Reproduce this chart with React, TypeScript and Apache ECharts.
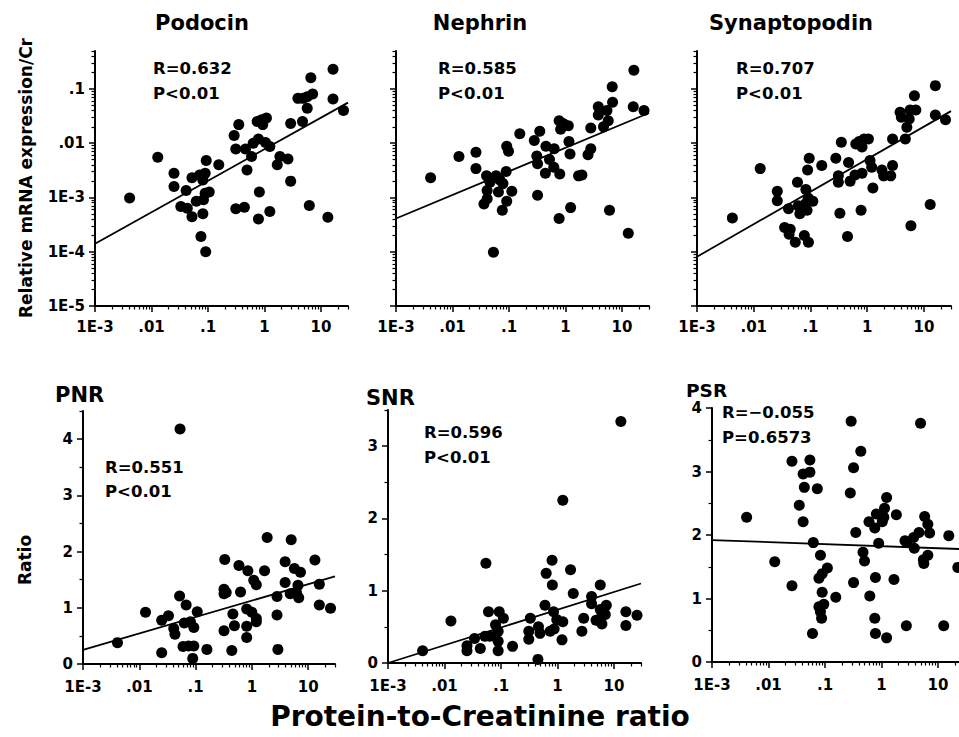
import React, { useEffect, useRef } from "react";
import * as echarts from "echarts";

// ---------- tick labels ----------
const xTickValues = [0.001, 0.01, 0.1, 1, 10];
const xTickLabels = ["1E-3", ".01", ".1", "1", "10"];
const logYTickValues = [1e-5, 1e-4, 1e-3, 0.01, 0.1];
const logYTickLabels = ["1E-5", "1E-4", "1E-3", ".01", ".1"];

const geneTitles = ["Podocin", "Nephrin", "Synaptopodin"];
const ratioTitles = ["PNR", "SNR", "PSR"];
const rTexts = ["R=0.632", "R=0.585", "R=0.707", "R=0.551", "R=0.596", "R=\u22120.055"];
const pTexts = ["P<0.01", "P<0.01", "P<0.01", "P<0.01", "P<0.01", "P=0.6573"];
const yNameTop = "Relative mRNA expression/Cr";
const yNameBottom = "Ratio";
const xName = "Protein-to-Creatinine ratio";

// ---------- data [protein-to-creatinine ratio, value] ----------
const podocin = [
  [0.0041, 9.8e-4], [0.0129, 0.0055], [0.025, 0.0028], [0.025, 0.0016], [0.041, 0.00135],
  [0.052, 0.0023], [0.033, 6.8e-4], [0.043, 6.3e-4], [0.052, 4.4e-4], [0.062, 8.5e-4],
  [0.071, 0.0026], [0.081, 0.0021], [0.089, 0.0028], [0.093, 0.0048], [0.083, 9.1e-4],
  [0.089, 0.0012], [0.105, 0.00126], [0.081, 5.0e-4], [0.075, 1.9e-4], [0.091, 1.0e-4],
  [0.155, 0.004], [0.29, 0.0139], [0.35, 0.022], [0.31, 0.0078], [0.46, 0.0078],
  [0.49, 0.0032], [0.31, 6.2e-4], [0.44, 6.6e-4], [0.59, 0.0057], [0.63, 0.01],
  [0.78, 0.012], [0.74, 0.025], [0.89, 0.027], [1.08, 0.029], [0.93, 0.022],
  [1.04, 0.0103], [1.24, 0.0087], [0.81, 0.00126], [0.78, 4.0e-4], [1.24, 5.5e-4],
  [1.68, 0.004], [1.87, 0.0057], [2.6, 0.0051], [2.9, 0.002], [2.9, 0.023],
  [3.9, 0.067], [4.8, 0.067], [5.7, 0.072], [7.1, 0.081], [6.6, 0.16],
  [5.7, 0.044], [4.7, 0.025], [6.2, 7.1e-4], [13.2, 4.3e-4], [16.3, 0.23],
  [16.3, 0.065], [25, 0.04],
];
const nephrin = [
  [0.0041, 0.0023], [0.013, 0.0057], [0.026, 0.0068], [0.026, 0.0034], [0.04, 0.0025],
  [0.059, 0.0025], [0.046, 0.0019], [0.041, 0.00135], [0.036, 7.6e-4], [0.041, 9.5e-4],
  [0.065, 0.00126], [0.078, 0.0018], [0.089, 0.003], [0.112, 0.0013], [0.091, 8.5e-4],
  [0.076, 5.8e-4], [0.053, 9.8e-5], [0.091, 0.0088], [0.098, 0.0071], [0.155, 0.015],
  [0.28, 0.0112], [0.35, 0.0166], [0.31, 0.0058], [0.32, 0.0042], [0.44, 0.0028],
  [0.45, 0.0088], [0.52, 0.005], [0.63, 0.0079], [0.62, 0.0036], [0.79, 0.0027],
  [0.32, 0.0011], [0.77, 4.1e-4], [1.23, 6.5e-4], [0.77, 0.026], [0.91, 0.023],
  [1.12, 0.021], [0.82, 0.018], [1.15, 0.0107], [1.2, 0.0063], [1.7, 0.0025],
  [1.95, 0.0026], [2.5, 0.0061], [2.8, 0.0079], [2.8, 0.019], [3.8, 0.047],
  [3.8, 0.033], [4.7, 0.02], [5.7, 0.026], [5.4, 0.04], [6.8, 0.057],
  [6.7, 0.11], [6.0, 5.8e-4], [12.9, 2.2e-4], [16.2, 0.22], [15.8, 0.047],
  [24.5, 0.04], [0.069, 0.0021],
];
const synaptopodin = [
  [0.0042, 4.2e-4], [0.013, 0.0034], [0.026, 0.0013], [0.026, 8.7e-4], [0.059, 0.0019],
  [0.041, 6.2e-4], [0.061, 7.0e-4], [0.065, 5.0e-4], [0.081, 7.6e-4], [0.083, 0.0014],
  [0.087, 5.8e-4], [0.11, 8.5e-4], [0.091, 9.8e-4], [0.095, 0.0053], [0.089, 0.0032],
  [0.158, 0.0039], [0.035, 2.8e-4], [0.044, 2.6e-4], [0.042, 2.1e-4], [0.054, 1.5e-4],
  [0.078, 2.0e-4], [0.092, 1.5e-4], [0.28, 0.0053], [0.35, 0.0104], [0.31, 0.0025],
  [0.31, 0.0019], [0.47, 0.0044], [0.5, 0.002], [0.61, 0.0026], [0.81, 0.0028],
  [0.33, 5.1e-4], [0.45, 1.9e-4], [0.78, 5.8e-4], [0.63, 0.0097], [0.72, 0.0107],
  [0.88, 0.012], [0.81, 0.0085], [1.05, 0.012], [1.12, 0.0048], [1.2, 0.0036],
  [1.26, 0.0015], [1.82, 0.0032], [1.95, 0.0025], [2.6, 0.0025], [2.8, 0.0039],
  [2.8, 0.012], [4.7, 0.012], [5.0, 0.0196], [5.5, 0.028], [3.8, 0.037],
  [4.0, 0.03], [5.7, 0.041], [7.2, 0.041], [6.8, 0.075], [5.9, 3.0e-4],
  [12.9, 7.4e-4], [15.9, 0.115], [15.9, 0.033], [24, 0.027],
];
const pnr = [
  [0.053, 4.18], [0.0041, 0.38], [0.0129, 0.92], [0.025, 0.78], [0.033, 0.86],
  [0.041, 0.63], [0.043, 0.53], [0.025, 0.2], [0.052, 1.21], [0.068, 1.05],
  [0.063, 0.73], [0.081, 0.75], [0.093, 0.65], [0.107, 0.93], [0.06, 0.31],
  [0.075, 0.32], [0.093, 0.32], [0.089, 0.1], [0.159, 0.26], [0.32, 1.25],
  [0.32, 1.33], [0.33, 1.86], [0.35, 1.27], [0.32, 0.59], [0.44, 0.24],
  [0.46, 0.89], [0.49, 0.68], [0.63, 1.28], [0.59, 1.75], [0.85, 1.66],
  [0.81, 0.98], [0.81, 0.67], [0.81, 0.47], [1.0, 0.92], [1.08, 1.49],
  [1.2, 1.41], [1.2, 0.81], [1.2, 0.75], [1.68, 1.66], [1.87, 2.25],
  [2.8, 1.2], [2.8, 0.87], [2.9, 0.26], [3.9, 1.82], [3.9, 1.45],
  [4.8, 1.25], [5.0, 2.21], [5.7, 1.7], [6.8, 1.18], [7.3, 1.63],
  [6.6, 1.4], [6.2, 1.27], [13.2, 1.85], [15.8, 1.42], [15.8, 1.05],
  [25, 0.99],
];
const snr = [
  [13.2, 3.34], [1.24, 2.25], [0.054, 1.38], [0.8, 1.42], [0.63, 1.24],
  [0.81, 1.08], [1.7, 1.29], [1.9, 0.96], [5.7, 1.08], [4.0, 0.92],
  [4.0, 0.82], [0.0041, 0.17], [0.013, 0.58], [0.025, 0.24], [0.025, 0.17],
  [0.034, 0.34], [0.043, 0.2], [0.06, 0.71], [0.052, 0.37], [0.063, 0.37],
  [0.078, 0.37], [0.08, 0.53], [0.093, 0.71], [0.11, 0.62], [0.089, 0.44],
  [0.089, 0.3], [0.089, 0.17], [0.16, 0.23], [0.33, 0.62], [0.31, 0.44],
  [0.31, 0.33], [0.46, 0.5], [0.49, 0.41], [0.45, 0.05], [0.6, 0.8],
  [0.85, 0.71], [0.74, 0.44], [0.87, 0.47], [0.97, 0.6], [1.24, 0.57],
  [1.2, 0.32], [2.7, 0.44], [2.9, 0.62], [4.8, 0.59], [6.1, 0.65],
  [6.1, 0.54], [7.3, 0.8], [7.0, 0.67], [5.7, 0.74], [16.2, 0.71],
  [16.2, 0.52], [25.5, 0.66],
];
const psr = [
  [0.0041, 2.28], [0.0129, 1.58], [0.026, 3.16], [0.026, 1.2], [0.035, 2.47],
  [0.041, 2.96], [0.043, 2.75], [0.041, 2.21], [0.054, 3.18], [0.054, 2.99],
  [0.073, 2.73], [0.062, 1.88], [0.083, 1.68], [0.078, 1.32], [0.089, 1.39],
  [0.11, 1.48], [0.089, 1.1], [0.078, 0.87], [0.095, 0.91], [0.087, 0.69],
  [0.083, 0.79], [0.06, 0.45], [0.155, 1.02], [0.29, 3.79], [0.43, 3.32],
  [0.32, 3.06], [0.28, 2.66], [0.35, 2.04], [0.32, 1.25], [0.47, 1.73],
  [0.5, 1.59], [0.6, 2.21], [0.76, 2.11], [0.89, 1.87], [0.81, 2.33],
  [1.1, 2.28], [1.13, 2.42], [1.23, 2.59], [1.03, 2.21], [0.78, 1.33],
  [0.62, 1.04], [0.76, 0.69], [0.78, 0.45], [1.23, 0.38], [1.66, 1.3],
  [1.83, 2.32], [2.6, 1.91], [2.8, 1.88], [2.75, 0.57], [3.7, 1.96],
  [4.6, 2.04], [3.8, 1.79], [4.9, 3.76], [5.8, 2.29], [6.6, 2.17],
  [7.1, 2.03], [6.6, 1.68], [5.5, 1.61], [5.6, 1.55], [12.6, 0.57],
  [15.5, 1.99], [22.4, 1.49],
];

// regression line end points
const podocinFit = [[0.001, 1.4e-4], [30, 0.056]];
const nephrinFit = [[0.001, 4.1e-4], [30, 0.036]];
const synaptopodinFit = [[0.001, 8.1e-5], [30, 0.039]];
const pnrFit = [[0.001, 0.25], [30, 1.56]];
const snrFit = [[0.001, 0.0], [30, 1.1]];
const psrFit = [[0.001, 1.92], [30, 1.776]];

const ratioYTicks4 = [0, 1, 2, 3, 4];
const ratioYTicks3 = [0, 1, 2, 3];

const FONT = '"DejaVu Sans", sans-serif';

function logMinor(min: number, max: number) {
  const out: number[] = [];
  for (let k = -6; k <= 2; k++) {
    for (let m = 2; m <= 9; m++) {
      const v = m * Math.pow(10, k);
      if (v > min * 1.0001 && v < max * 1.0001) out.push(v);
    }
  }
  return out;
}
function halves(max: number) {
  const out: number[] = [];
  for (let v = 0.5; v <= max + 1e-9; v += 1) out.push(v);
  return out;
}
function logFormatter(vals: number[], labels: string[]) {
  return (v: number) => {
    const i = vals.findIndex((t) => Math.abs(Math.log10(t) - Math.log10(v)) < 1e-6);
    return i >= 0 ? labels[i] : "";
  };
}

const panels = [
  { left: 95, top: 51, width: 253, height: 255, log: true, yMax: 0.5, pts: podocin, fit: podocinFit, row: 0 },
  { left: 396, top: 51, width: 253, height: 255, log: true, yMax: 0.5, pts: nephrin, fit: nephrinFit, row: 0 },
  { left: 697, top: 51, width: 254, height: 255, log: true, yMax: 0.5, pts: synaptopodin, fit: synaptopodinFit, row: 0 },
  { left: 83, top: 411, width: 252, height: 253, log: false, yMax: 4.5, yTicks: ratioYTicks4, pts: pnr, fit: pnrFit, row: 1 },
  { left: 388, top: 410, width: 253, height: 253, log: false, yMax: 3.5, yTicks: ratioYTicks3, pts: snr, fit: snrFit, row: 1 },
  { left: 712, top: 408, width: 253, height: 254, log: false, yMax: 4, yTicks: ratioYTicks4, pts: psr, fit: psrFit, row: 1 },
];

const labelStyle = { color: "#000", fontSize: 15, fontWeight: "bold" as const, fontFamily: FONT };

function buildOption() {
  const xMin = 0.001;
  const xMax = 30;
  const minorX = logMinor(xMin, xMax);
  const grid = panels.map((p) => ({
    left: p.left, top: p.top, width: p.width, height: p.height,
    containLabel: false, outerBoundsMode: "none",
  }));
  const xAxis: any[] = [];
  const yAxis: any[] = [];
  const series: any[] = [];
  panels.forEach((p, i) => {
    xAxis.push({
      type: "log", logBase: 10, gridIndex: i, min: xMin, max: xMax, position: "bottom",
      axisLine: { show: true, onZero: false, lineStyle: { color: "#000", width: 2 } },
      axisTick: { show: true, inside: false, length: 6, customValues: xTickValues, lineStyle: { color: "#000", width: 1.5 } },
      axisLabel: { show: true, customValues: xTickValues, formatter: logFormatter(xTickValues, xTickLabels), margin: p.row === 0 ? 13 : 15, ...labelStyle },
      splitLine: { show: false }, minorTick: { show: false }, minorSplitLine: { show: false },
    });
    xAxis.push({
      type: "log", logBase: 10, gridIndex: i, min: xMin, max: xMax, position: "bottom",
      axisLine: { show: false, onZero: false },
      axisTick: { show: true, inside: false, length: 3.5, customValues: minorX, lineStyle: { color: "#000", width: 1.2 } },
      axisLabel: { show: false }, splitLine: { show: false },
    });
    if (p.log) {
      const minY = 1e-5;
      yAxis.push({
        type: "log", logBase: 10, gridIndex: i, min: minY, max: p.yMax, position: "left",
        axisLine: { show: true, onZero: false, lineStyle: { color: "#000", width: 2 } },
        axisTick: { show: true, inside: false, length: 6, customValues: logYTickValues, lineStyle: { color: "#000", width: 1.5 } },
        axisLabel: { show: i === 0, customValues: logYTickValues, formatter: logFormatter(logYTickValues, logYTickLabels), margin: 10, ...labelStyle },
        splitLine: { show: false },
      });
      yAxis.push({
        type: "log", logBase: 10, gridIndex: i, min: minY, max: p.yMax, position: "left",
        axisLine: { show: false, onZero: false },
        axisTick: { show: true, inside: false, length: 3.5, customValues: logMinor(minY, p.yMax), lineStyle: { color: "#000", width: 1.2 } },
        axisLabel: { show: false }, splitLine: { show: false },
      });
    } else {
      yAxis.push({
        type: "value", gridIndex: i, min: 0, max: p.yMax, position: "left",
        axisLine: { show: true, onZero: false, lineStyle: { color: "#000", width: 2 } },
        axisTick: { show: true, inside: false, length: 6, customValues: p.yTicks, lineStyle: { color: "#000", width: 1.5 } },
        axisLabel: { show: true, customValues: p.yTicks, formatter: (v: number) => String(v), margin: 10, ...labelStyle },
        splitLine: { show: false },
      });
      yAxis.push({
        type: "value", gridIndex: i, min: 0, max: p.yMax, position: "left",
        axisLine: { show: false, onZero: false },
        axisTick: { show: true, inside: false, length: 3.5, customValues: halves(p.yMax), lineStyle: { color: "#000", width: 1.2 } },
        axisLabel: { show: false }, splitLine: { show: false },
      });
    }
    series.push({
      type: "scatter", xAxisIndex: 2 * i, yAxisIndex: 2 * i, data: p.pts,
      symbol: "circle", symbolSize: 11, itemStyle: { color: "#000", opacity: 1 }, silent: true, clip: false,
    });
    series.push({
      type: "line", xAxisIndex: 2 * i, yAxisIndex: 2 * i, data: p.fit,
      showSymbol: false, symbol: "none", lineStyle: { color: "#000", width: 1.8 }, silent: true,
    });
  });

  const txt = (text: string, x: number, y: number, size: number, align = "left", rotation = 0) => ({
    type: "text", x, y, rotation, silent: true,
    style: {
      text, fill: "#000", font: `bold ${size}px ${FONT}`,
      textAlign: align, textVerticalAlign: "middle", align, verticalAlign: "middle",
    },
  });

  const graphic: any[] = [
    txt(geneTitles[0], 202, 23, 21, "center"),
    txt(geneTitles[1], 480, 23, 21, "center"),
    txt(geneTitles[2], 791, 23, 21, "center"),
    txt(ratioTitles[0], 55, 395, 21),
    txt(ratioTitles[1], 366, 398, 21),
    txt(ratioTitles[2], 686, 390, 18.5),
    txt(rTexts[0], 153, 68, 16.5), txt(pTexts[0], 153, 93, 16.5),
    txt(rTexts[1], 438, 68, 16.5), txt(pTexts[1], 438, 93, 16.5),
    txt(rTexts[2], 736, 68, 16.5), txt(pTexts[2], 736, 93, 16.5),
    txt(rTexts[3], 105, 467, 16.5), txt(pTexts[3], 105, 491, 16.5),
    txt(rTexts[4], 424, 432, 16.5), txt(pTexts[4], 424, 457, 16.5),
    txt(rTexts[5], 722, 412, 16.5), txt(pTexts[5], 722, 437, 16.5),
    txt(yNameTop, 26, 178, 17, "center", Math.PI / 2),
    txt(yNameBottom, 25, 560, 17, "center", Math.PI / 2),
    txt(xName, 480, 716, 28, "center"),
  ];

  return {
    animation: false,
    backgroundColor: "#fff",
    grid, xAxis, yAxis, series, graphic,
  };
}

export default function App() {
  const ref = useRef<HTMLDivElement>(null);
  useEffect(() => {
    if (!ref.current) return;
    const chart = echarts.init(ref.current, undefined, { renderer: "svg" });
    chart.setOption(buildOption() as any);
    return () => chart.dispose();
  }, []);
  return (
    <div
      ref={ref}
      style={{ position: "absolute", left: 0, top: 0, width: 959, height: 737, background: "#fff" }}
    />
  );
}
